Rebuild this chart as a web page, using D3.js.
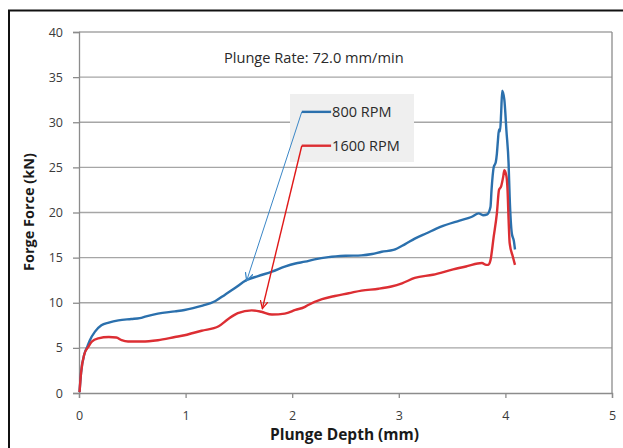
<!DOCTYPE html>
<html>
<head>
<meta charset="utf-8">
<script src="https://cdn.jsdelivr.net/npm/d3@7"></script>
<style>
  html, body { margin: 0; padding: 0; background: #fff; }
  svg { display: block; font-family: "Open Sans", "DejaVu Sans", sans-serif; }
</style>
</head>
<body>
<svg id="chart" width="623" height="448"></svg>
<script>
// Forge force vs plunge depth, two spindle speeds
const depth800 = [0.005,0.02,0.05,0.08,0.10,0.15,0.21,0.28,0.37,0.49,0.57,0.63,0.74,0.90,0.99,1.07,1.15,1.28,1.37,1.46,1.57,1.68,1.81,1.93,2.03,2.12,2.21,2.34,2.50,2.65,2.75,2.84,2.95,3.06,3.15,3.26,3.39,3.57,3.68,3.75,3.79,3.83,3.86,3.87,3.89,3.91,3.92,3.93,3.94,3.95,3.96,3.97,3.99,4.01,4.03,4.04,4.06,4.08,4.09];
const force800 = [0.1,2.3,4.3,5.2,5.8,6.8,7.5,7.8,8.05,8.2,8.3,8.5,8.8,9.05,9.2,9.4,9.65,10.2,10.9,11.6,12.5,12.95,13.45,14.0,14.35,14.55,14.8,15.05,15.2,15.25,15.4,15.65,15.85,16.5,17.1,17.7,18.4,19.1,19.5,19.9,19.7,19.8,20.6,22.5,25.0,25.6,26.5,28.0,29.2,29.0,31.0,33.5,32.5,29.0,25.4,21.7,17.7,16.8,15.9];

const depth1600 = [0.005,0.02,0.05,0.087,0.12,0.18,0.28,0.35,0.40,0.46,0.59,0.74,0.90,0.99,1.07,1.15,1.31,1.40,1.49,1.62,1.71,1.81,1.93,2.03,2.12,2.15,2.28,2.40,2.53,2.65,2.81,2.93,3.03,3.15,3.32,3.51,3.64,3.78,3.82,3.84,3.86,3.89,3.92,3.94,3.96,3.98,3.99,4.01,4.02,4.03,4.04,4.07,4.09];
const force1600 = [0.1,2.3,4.3,5.1,5.7,6.05,6.2,6.15,5.85,5.7,5.7,5.85,6.2,6.4,6.65,6.9,7.4,8.2,8.85,9.15,9.0,8.7,8.8,9.2,9.55,9.75,10.4,10.75,11.05,11.35,11.55,11.8,12.15,12.75,13.1,13.7,14.05,14.4,14.2,14.2,14.7,17.3,19.9,22.5,22.9,24.0,24.7,24.0,22.5,19.2,16.6,15.1,14.2];

const seriesNames = ["800 RPM", "1600 RPM"];
const seriesColors = ["#2b70ad", "#dc2e33"];
const leaderColors = ["#3a86c6", "#e01818"];
// legend leader lines: [tail depth, tail force, tip depth, tip force, legend end depth]
const leader800 = [2.09, 31.15, 1.573, 12.45, 2.365];
const leader1600 = [2.09, 27.4, 1.72, 9.35, 2.365];

const xTicks = [0, 1, 2, 3, 4, 5];
const yTicks = [0, 5, 10, 15, 20, 25, 30, 35, 40];
const titleText = "Plunge Rate: 72.0 mm/min";
const xLabel = "Plunge Depth (mm)";
const yLabel = "Forge Force (kN)";

const svg = d3.select("#chart");
const plot = { left: 79, top: 32, right: 612, bottom: 393 };

const x = d3.scaleLinear().domain([0, 5]).range([plot.left, plot.right]);
const y = d3.scaleLinear().domain([0, 40]).range([plot.bottom, plot.top]);

// outer frame
svg.append("rect")
  .attr("x", 9).attr("y", 10.5)
  .attr("width", 640).attr("height", 460)
  .attr("fill", "none").attr("stroke", "#111").attr("stroke-width", 2);

// horizontal gridlines
svg.append("g").selectAll("line").data(yTicks.filter(d => d > 0)).join("line")
  .attr("x1", plot.left).attr("x2", plot.right)
  .attr("y1", d => y(d)).attr("y2", d => y(d))
  .attr("stroke", "#a6a6a6").attr("stroke-width", 1.3);

// plot border (right side)
svg.append("line")
  .attr("x1", plot.right).attr("x2", plot.right)
  .attr("y1", plot.top).attr("y2", plot.bottom)
  .attr("stroke", "#8c8c8c").attr("stroke-width", 1.3);

// axes
const xAxis = svg.append("g")
  .attr("transform", `translate(0,${plot.bottom})`)
  .call(d3.axisBottom(x).tickValues(xTicks).tickFormat(d3.format("d")).tickSize(5).tickPadding(13));
const yAxis = svg.append("g")
  .attr("transform", `translate(${plot.left},0)`)
  .call(d3.axisLeft(y).tickValues(yTicks).tickFormat(d3.format("d")).tickSize(6).tickPadding(10));

[xAxis, yAxis].forEach(g => {
  g.select(".domain").attr("stroke", "#8c8c8c").attr("stroke-width", 1.3);
  g.selectAll(".tick line").attr("stroke", "#8c8c8c").attr("stroke-width", 1.3);
  g.selectAll(".tick text")
    .attr("fill", "#3a3a3a")
    .style("font-family", '"Open Sans", sans-serif')
    .style("font-size", "12.5px");
});

// legend background
svg.append("rect")
  .attr("x", 290).attr("y", 94).attr("width", 124).attr("height", 68)
  .attr("fill", "#efefef");

// series curves
const line = d3.line().x(d => x(d[0])).y(d => y(d[1])).curve(d3.curveMonotoneX);
const series = [
  d3.zip(depth800, force800),
  d3.zip(depth1600, force1600)
];
series.forEach((pts, i) => {
  svg.append("path")
    .datum(pts)
    .attr("d", line)
    .attr("fill", "none")
    .attr("stroke", seriesColors[i])
    .attr("stroke-width", 2.4)
    .attr("stroke-linejoin", "round");
});

// legend entries with leader arrows
const defs = svg.append("defs");
[leader800, leader1600].forEach((L, i) => {
  defs.append("marker")
    .attr("id", "arr" + i)
    .attr("viewBox", "0 -5 10 10")
    .attr("refX", 9).attr("refY", 0)
    .attr("markerWidth", 9).attr("markerHeight", 9)
    .attr("markerUnits", "userSpaceOnUse")
    .attr("orient", "auto")
    .append("path")
    .attr("d", "M0,-4.5L9,0L0,4.5")
    .attr("fill", "none")
    .attr("stroke", leaderColors[i])
    .attr("stroke-width", 1.4);

  // legend swatch
  svg.append("line")
    .attr("x1", x(L[0])).attr("y1", y(L[1]))
    .attr("x2", x(L[4])).attr("y2", y(L[1]))
    .attr("stroke", seriesColors[i]).attr("stroke-width", 2.4);

  // leader
  svg.append("line")
    .attr("x1", x(L[0])).attr("y1", y(L[1]))
    .attr("x2", x(L[2])).attr("y2", y(L[3]))
    .attr("stroke", leaderColors[i])
    .attr("stroke-width", i === 0 ? 1 : 1.4)
    .attr("marker-end", `url(#arr${i})`);

  svg.append("text")
    .attr("x", x(L[4]) + 1).attr("y", y(L[1]))
    .attr("dy", "0.36em")
    .attr("fill", "#2a2a2a")
    .style("font-size", "14.5px")
    .text(seriesNames[i]);
});

// annotation
svg.append("text")
  .attr("x", 224).attr("y", 58)
  .attr("dy", "0.36em")
  .attr("fill", "#2a2a2a")
  .style("font-size", "14.6px")
  .text(titleText);

// axis titles
svg.append("text")
  .attr("x", (plot.left + plot.right) / 2 - 1).attr("y", 440)
  .attr("text-anchor", "middle")
  .attr("fill", "#1a1a1a")
  .style("font-size", "15.5px").style("font-weight", "bold")
  .text(xLabel);

svg.append("text")
  .attr("transform", `translate(34,212) rotate(-90)`)
  .attr("text-anchor", "middle")
  .attr("fill", "#1a1a1a")
  .style("font-size", "14.5px").style("font-weight", "bold")
  .text(yLabel);
</script>
</body>
</html>
